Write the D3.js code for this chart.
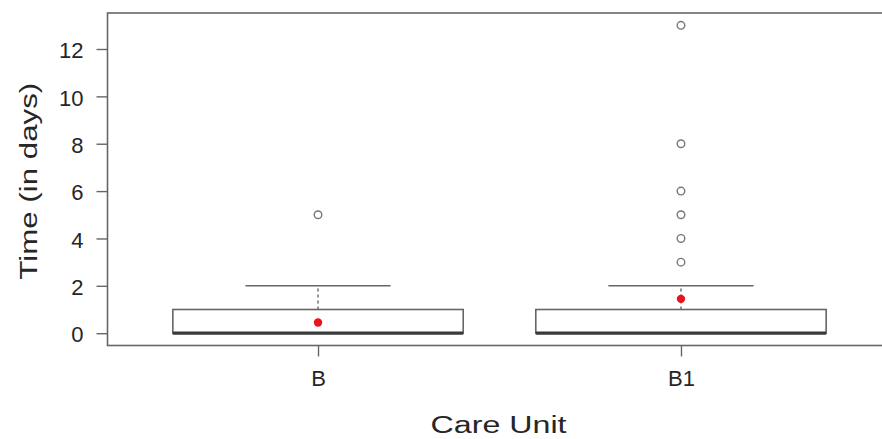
<!DOCTYPE html>
<html><head><meta charset="utf-8">
<script src="https://cdn.jsdelivr.net/npm/d3@7"></script>
<style>body{margin:0;background:#fff}svg{display:block}text{font-family:"Liberation Sans",Arial,sans-serif}</style>
</head><body>
<svg id="c" width="882" height="439"></svg>
<script>
const categories = ["B", "B1"];
const q1 = [0, 0];
const medians = [0, 0];
const q3 = [1, 1];
const whiskerLow = [0, 0];
const whiskerHigh = [2, 2];
const means = [0.45, 1.45];
const outliers = [[5], [3, 4, 5, 6, 8, 13]];
const yTicks = [0, 2, 4, 6, 8, 10, 12];

const svg = d3.select("#c");
const L = 107.5, R = 891.5, T = 13, B = 345.5;
const x = d3.scaleLinear().domain([0.42, 2.58]).range([L, R]);
const y = d3.scaleLinear().domain([-0.52, 13.52]).range([B, T]);
const boxHalf = 0.4, capHalf = 0.2;
const gray = "#666";
const ink = "#262626";

const data = categories.map((c, i) => ({c, i, pos: i + 1, q1: q1[i], med: medians[i], q3: q3[i], lo: whiskerLow[i], hi: whiskerHigh[i], mean: means[i], out: outliers[i]}));

const g = svg.append("g");
data.forEach(d => {
  g.append("line").attr("x1", x(d.pos)).attr("x2", x(d.pos)).attr("y1", y(d.q3)).attr("y2", y(d.hi))
    .attr("stroke", gray).attr("stroke-width", 1.4).attr("stroke-dasharray", "3,3");
  g.append("line").attr("x1", x(d.pos - capHalf)).attr("x2", x(d.pos + capHalf)).attr("y1", y(d.hi)).attr("y2", y(d.hi))
    .attr("stroke", gray).attr("stroke-width", 1.6);
  g.append("rect").attr("x", x(d.pos - boxHalf)).attr("width", x(d.pos + boxHalf) - x(d.pos - boxHalf))
    .attr("y", y(d.q3)).attr("height", y(d.q1) - y(d.q3))
    .attr("fill", "#fff").attr("stroke", gray).attr("stroke-width", 1.6);
  g.append("line").attr("x1", x(d.pos - boxHalf)).attr("x2", x(d.pos + boxHalf)).attr("y1", y(d.med)).attr("y2", y(d.med))
    .attr("stroke", "#3a3a3a").attr("stroke-width", 3.2);
  g.selectAll(null).data(d.out).enter().append("circle")
    .attr("cx", x(d.pos)).attr("cy", v => y(v)).attr("r", 3.8)
    .attr("fill", "none").attr("stroke", "#777").attr("stroke-width", 1.4);
  g.append("circle").attr("cx", x(d.pos)).attr("cy", y(d.mean)).attr("r", 4.2).attr("fill", "#e8141c");
});

svg.append("rect").attr("x", L).attr("y", T).attr("width", R - L).attr("height", B - T)
  .attr("fill", "none").attr("stroke", gray).attr("stroke-width", 1.6);

const ya = svg.append("g").attr("transform", `translate(${L},0)`)
  .call(d3.axisLeft(y).tickValues(yTicks).tickSize(11).tickPadding(13));
ya.select(".domain").remove();
ya.selectAll(".tick line").attr("stroke", gray).attr("stroke-width", 1.4);
ya.selectAll(".tick text").attr("font-size", 22).attr("fill", ink).attr("dy", "0.4em")
  .attr("font-family", "Liberation Sans, Arial, sans-serif");

const xa = svg.append("g").attr("transform", `translate(0,${B})`)
  .call(d3.axisBottom(x).tickValues(data.map(d => d.pos)).tickFormat((v, i) => categories[i]).tickSize(11).tickPadding(14));
xa.select(".domain").remove();
xa.selectAll(".tick line").attr("stroke", gray).attr("stroke-width", 1.4);
xa.selectAll(".tick text").attr("font-size", 22).attr("fill", ink)
  .attr("font-family", "Liberation Sans, Arial, sans-serif");

svg.append("text").attr("x", (L + R) / 2 - 1).attr("y", 433).attr("text-anchor", "middle")
  .attr("font-size", 23).attr("fill", ink)
  .attr("textLength", 136).attr("lengthAdjust", "spacingAndGlyphs").text("Care Unit");
svg.append("text").attr("transform", `translate(37,${(T + B) / 2 + 2}) rotate(-90)`).attr("text-anchor", "middle")
  .attr("font-size", 23).attr("fill", ink)
  .attr("textLength", 197).attr("lengthAdjust", "spacingAndGlyphs").text("Time (in days)");
</script>
</body></html>
